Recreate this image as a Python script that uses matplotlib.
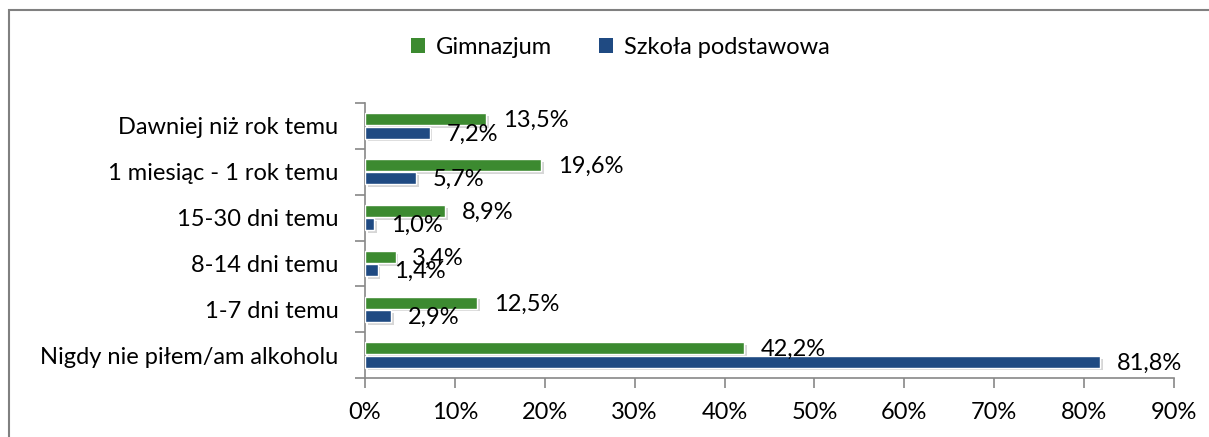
import matplotlib
matplotlib.use("Agg")
import matplotlib.pyplot as plt
import matplotlib.patheffects as pe
from matplotlib.patches import Rectangle, Patch
import numpy as np

categories = ["Nigdy nie piłem/am alkoholu", "1-7 dni temu", "8-14 dni temu",
              "15-30 dni temu", "1 miesiąc - 1 rok temu", "Dawniej niż rok temu"]
gimnazjum = [42.2, 12.5, 3.4, 8.9, 19.6, 13.5]
podstawowa = [81.8, 2.9, 1.4, 1.0, 5.7, 7.2]
series_names = ["Gimnazjum", "Szkoła podstawowa"]
xticks = [0, 10, 20, 30, 40, 50, 60, 70, 80, 90]

green = "#3C8A30"
blue = "#1F4A82"
FONT = "Lato"
FS = 17

plt.rcParams['font.family'] = [FONT, 'DejaVu Sans']

fig = plt.figure(figsize=(12.09, 4.37), dpi=100)
ax = fig.add_axes([365/1209, 1-378/437, (1174-365)/1209, 275/437])

y = np.arange(len(categories))
h = 0.26
off = 0.145
shadow = [pe.SimplePatchShadow(offset=(2, -2), shadow_rgbFace="#999999", alpha=0.4), pe.Normal()]
b1 = ax.barh(y + off, gimnazjum, height=h, color=green, edgecolor="white", linewidth=1.0, zorder=3)
b2 = ax.barh(y - off, podstawowa, height=h, color=blue, edgecolor="white", linewidth=1.0, zorder=3)
for b in list(b1) + list(b2):
    b.set_path_effects(shadow)

def fmt(v):
    return f"{v:.1f}%".replace(".", ",")

for yi, v in zip(y, gimnazjum):
    ax.annotate(fmt(v), (v, yi + off), xytext=(12, -1), textcoords="offset points",
                ha="left", va="center", fontsize=FS, color="black", zorder=5)
for yi, v in zip(y, podstawowa):
    ax.annotate(fmt(v), (v, yi - off), xytext=(12, -1), textcoords="offset points",
                ha="left", va="center", fontsize=FS, color="black", zorder=5)

ax.set_xlim(0, 90)
ax.set_ylim(-0.5, len(categories) - 0.5)
ax.set_xticks(xticks)
ax.set_xticklabels([f"{t}%" for t in xticks], fontsize=FS)
ax.set_yticks(y)
ax.set_yticklabels(categories, fontsize=FS)
ax.set_yticks(np.arange(-0.5, len(categories)), minor=True)
ax.tick_params(axis="y", which="major", length=0, pad=19)
ax.tick_params(axis="y", which="minor", length=7, color="#888888", width=1.2)
ax.tick_params(axis="x", which="major", length=7, color="#888888", width=1.2, pad=10)
for s in ["top", "right"]:
    ax.spines[s].set_visible(False)
for s in ["left", "bottom"]:
    ax.spines[s].set_color("#888888")
    ax.spines[s].set_linewidth(1.2)

handles = [Patch(facecolor=green), Patch(facecolor=blue)]
fig.legend(handles, series_names, loc="center", bbox_to_anchor=(620/1209, 1-47/437),
           ncol=2, frameon=False, fontsize=FS, handlelength=0.6, handleheight=0.6,
           handletextpad=0.45, columnspacing=2.0)

fig.patches.append(Rectangle((9/1209, -0.05), 1.1, 1-9.5/437+0.05, transform=fig.transFigure,
                             fill=False, edgecolor="#808080", linewidth=1.5, zorder=0))

fig.savefig("out.png", dpi=100, facecolor="white")
